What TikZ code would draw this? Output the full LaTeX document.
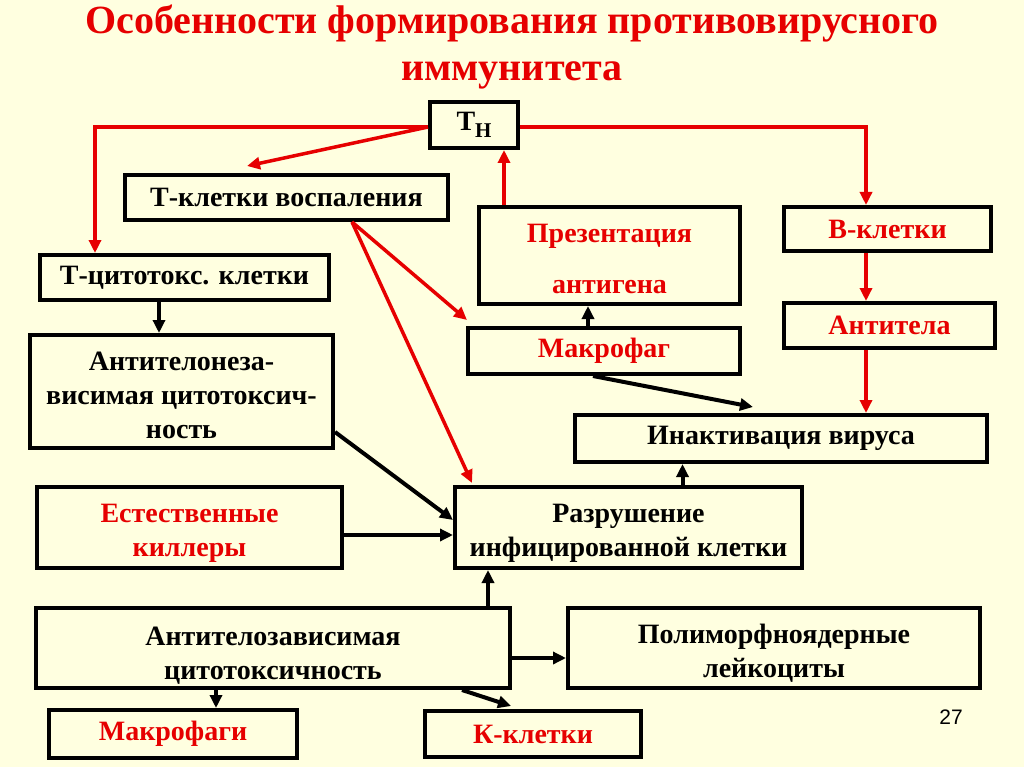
\documentclass[tikz,border=0pt]{standalone}
\usepackage{fontspec}
\setmainfont{Liberation Serif}
\newfontfamily\numfont{Liberation Sans}
\usetikzlibrary{arrows.meta,calc}
\definecolor{slidebg}{RGB}{255,255,224}
\definecolor{slidered}{RGB}{230,0,0}
\newcommand\dropline[1]{\rule{0pt}{#1}}
\tikzset{
	cellbox/.style={draw=black, line width=4pt, fill=slidebg, inner sep=2pt, align=center, font=\bfseries\fontsize{28}{34}\selectfont},
	redtext/.style={text=slidered},
	redarrow/.style={draw=slidered, line width=3.5pt, -{Triangle[length=13pt,width=12pt]}},
	blackarrow/.style={draw=black, line width=4pt, -{Triangle[length=13pt,width=12pt]}},
}

\begin{document}
\begin{tikzpicture}[x=1pt,y=-1pt]
		%%%%% START %%%%%
		
		\fill[slidebg] (0,0) rectangle (1024,767);
		\useasboundingbox (0,0) rectangle (1024,767);
		
		\node[text=slidered, align=center, font=\bfseries\fontsize{40}{47}\selectfont] (title) at (512,47) {Особенности формирования противовирусного\\иммунитета};
		
		\node[cellbox, minimum width=88pt, minimum height=46pt] (th) at (474,125) {Т\raisebox{-7pt}{\fontsize{21}{21}\selectfont Н}};
		\node[cellbox, minimum width=323pt, minimum height=45pt] (tv) at (286.5,197.5) {Т-клетки воспаления};
		\node[cellbox, minimum width=289pt, minimum height=45pt] (tc) at (184.5,277.5) {Т-цитотокс. клетки};
		\node[cellbox, redtext, minimum width=261pt, minimum height=97pt] (pa) at (609.5,255.5) {\dropline{25pt}Презентация\\[17pt]антигена};
		\node[cellbox, redtext, minimum width=207pt, minimum height=44pt] (bc) at (887.5,229) {В-клетки};
		\node[cellbox, redtext, minimum width=211pt, minimum height=45pt] (ab) at (889.5,325.5) {Антитела};
		\node[cellbox, redtext, minimum width=272pt, minimum height=46pt] (mf) at (604,351) {Макрофаг};
		\node[cellbox, minimum width=303pt, minimum height=113pt] (adc) at (181.5,391.5) {\dropline{27pt}Антителонеза-\\висимая цитотоксич-\\ность};
		\node[cellbox, minimum width=412pt, minimum height=47pt] (iv) at (781,438.5) {Инактивация вируса};
		\node[cellbox, redtext, minimum width=305pt, minimum height=81pt] (nk) at (189.5,527.5) {\dropline{30pt}Естественные\\киллеры};
		\node[cellbox, minimum width=347pt, minimum height=81pt] (dc) at (628.5,527.5) {\dropline{30pt}Разрушение\\инфицированной клетки};
		\node[cellbox, minimum width=474pt, minimum height=80pt] (adcc) at (273,648) {\dropline{33pt}Антителозависимая\\цитотоксичность};
		\node[cellbox, minimum width=412pt, minimum height=80pt] (pmn) at (774,648) {\dropline{30pt}Полиморфноядерные\\лейкоциты};
		\node[cellbox, redtext, minimum width=248pt, minimum height=48pt] (mfs) at (173,734) {Макрофаги};
		\node[cellbox, redtext, minimum width=216pt, minimum height=46pt] (kc) at (533,734) {К-клетки};
		
		\node[font=\numfont\fontsize{21}{21}\selectfont] (pg) at (951,717) {27};
		
		\draw[redarrow] ([yshift=-2pt]th.west) -| ([xshift=-89.5pt]tc.north);
		\draw[redarrow] ([yshift=-2pt]th.west) -- ([xshift=-39.5pt,yshift=7pt]tv.north);
		\draw[redarrow] ([yshift=-2pt]th.east) -| ([xshift=-21.5pt]bc.north);
		\draw[redarrow] ([xshift=-105.5pt]pa.north) -- ([xshift=-105.5pt]pa.north |- th.south);
		\draw[redarrow] ([xshift=-21.5pt]bc.south) -- ([xshift=-21.5pt]bc.south |- ab.north);
		\draw[redarrow] ([xshift=-23.5pt]ab.south) -- ([xshift=-23.5pt]ab.south |- iv.north);
		\draw[redarrow] ([xshift=65.5pt]tv.south) -- ([xshift=-137pt,yshift=6pt]mf.north);
		\draw[redarrow] ([xshift=65.5pt]tv.south) -- ([xshift=-156.5pt,yshift=2pt]dc.north);
		
		\draw[blackarrow] ([xshift=-16pt]mf.north) -- ([xshift=-16pt]mf.north |- pa.south);
		\draw[blackarrow] ([xshift=-11pt]mf.south) -- ([xshift=-28pt,yshift=6pt]iv.north);
		\draw[blackarrow] ([xshift=-25.5pt]tc.south) -- ([xshift=-25.5pt]tc.south |- adc.north);
		\draw[blackarrow] ([yshift=-40.5pt]adc.east) -- ([yshift=7.5pt]dc.west);
		\draw[blackarrow] ([yshift=-7.5pt]nk.east) -- ([yshift=-7.5pt]nk.east -| dc.west);
		\draw[blackarrow] ([xshift=54pt]dc.north) -- ([xshift=54pt]dc.north |- iv.south);
		\draw[blackarrow] ([xshift=215pt]adcc.north) -- ([xshift=215pt]adcc.north |- dc.south);
		\draw[blackarrow] ([yshift=-10pt]adcc.east) -- ([yshift=-10pt]adcc.east -| pmn.west);
		\draw[blackarrow] ([xshift=-57pt]adcc.south) -- ([xshift=-57pt]adcc.south |- mfs.north);
		\draw[blackarrow] ([xshift=189pt]adcc.south) -- ([xshift=-22pt,yshift=3pt]kc.north);
		
		%%%%% END %%%%%
	\end{tikzpicture}
\end{document}
